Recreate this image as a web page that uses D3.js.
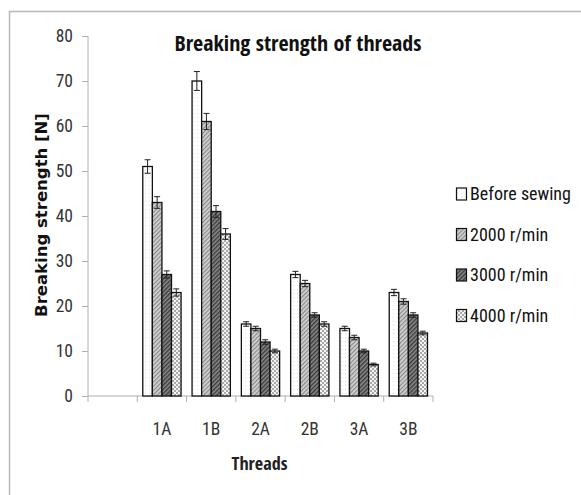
<!DOCTYPE html>
<html><head><meta charset="utf-8">
<script src="https://cdn.jsdelivr.net/npm/d3@7"></script>
<style>
html,body{margin:0;padding:0;background:#fff;}
</style>
</head><body>
<svg id="c" width="581" height="495"></svg>
<script>
const categories = ["", "1A", "1B", "2A", "2B", "3A", "3B"];
const seriesNames = ["Before sewing", "2000 r/min", "3000 r/min", "4000 r/min"];
const beforeSewing = [null, 51, 70, 16, 27, 15, 23];
const rpm2000 = [null, 43, 61, 15, 25, 13, 21];
const rpm3000 = [null, 27, 41, 12, 18, 10, 18];
const rpm4000 = [null, 23, 36, 10, 16, 7, 14];
const errBefore = [null, 1.5, 2.1, 0.5, 0.7, 0.5, 0.7];
const err2000 = [null, 1.3, 1.8, 0.5, 0.7, 0.5, 0.6];
const err3000 = [null, 0.8, 1.3, 0.5, 0.5, 0.4, 0.5];
const err4000 = [null, 0.8, 1.2, 0.4, 0.5, 0.3, 0.4];
const yTicks = [0, 10, 20, 30, 40, 50, 60, 70, 80];

const seriesValues = [beforeSewing, rpm2000, rpm3000, rpm4000];
const seriesErr = [errBefore, err2000, err3000, err4000];

const REG = "'Roboto Condensed', 'Open Sans', sans-serif";
const BOLDC = "'Open Sans Condensed', 'Roboto Condensed', sans-serif";
const BOLDW = "'DejaVu Sans', 'Open Sans', sans-serif";

const svg = d3.select("#c");
const defs = svg.append("defs");

function fit(sel, w) {
  const cur = sel.node().getComputedTextLength();
  const fs = parseFloat(sel.attr("font-size"));
  sel.attr("font-size", (fs * w / cur).toFixed(2));
  return sel;
}

// patterns
const p0 = defs.append("pattern").attr("id","pat0").attr("patternUnits","userSpaceOnUse").attr("width",4).attr("height",4);
p0.append("rect").attr("width",4).attr("height",4).attr("fill","#fff");
p0.append("rect").attr("x",1).attr("y",1).attr("width",1).attr("height",1).attr("fill","#ddd");

const p1 = defs.append("pattern").attr("id","pat1").attr("patternUnits","userSpaceOnUse").attr("width",3).attr("height",3).attr("patternTransform","rotate(45)");
p1.append("rect").attr("width",3).attr("height",3).attr("fill","#d2d2d2");
p1.append("rect").attr("width",1.2).attr("height",3).attr("fill","#8a8a8a");

const p2 = defs.append("pattern").attr("id","pat2").attr("patternUnits","userSpaceOnUse").attr("width",3).attr("height",3).attr("patternTransform","rotate(45)");
p2.append("rect").attr("width",3).attr("height",3).attr("fill","#8a8a8a");
p2.append("rect").attr("width",1.4).attr("height",3).attr("fill","#3a3a3a");

const p3 = defs.append("pattern").attr("id","pat3").attr("patternUnits","userSpaceOnUse").attr("width",4).attr("height",4);
p3.append("rect").attr("width",4).attr("height",4).attr("fill","#f4f4f4");
p3.append("rect").attr("width",2).attr("height",2).attr("fill","#a8a8a8");
p3.append("rect").attr("x",2).attr("y",2).attr("width",2).attr("height",2).attr("fill","#a8a8a8");

const fills = ["url(#pat0)","url(#pat1)","url(#pat2)","url(#pat3)"];

// frame
svg.append("rect").attr("x",9.5).attr("y",11.5).attr("width",600).attr("height",600)
  .attr("fill","none").attr("stroke","#b8b8b8").attr("stroke-width",1.5);

const x = d3.scaleBand().domain(categories).range([88, 433]).paddingInner(0).paddingOuter(0);
const y = d3.scaleLinear().domain([0, 80]).range([396, 36]);
const xs = d3.scaleBand().domain(seriesNames).range([5.5, x.bandwidth() - 5.5]).padding(0);

// y axis
const gy = svg.append("g").attr("transform","translate(88,0)")
  .call(d3.axisLeft(y).tickValues(yTicks).tickSize(6).tickPadding(9));
gy.select(".domain").attr("stroke","#b0b0b0").attr("d","M0,36V402");
gy.selectAll(".tick line").attr("stroke","#b0b0b0");
gy.selectAll(".tick text").attr("fill","#333").style("font-family",REG).attr("font-size",17.5);

// x axis
const gx = svg.append("g").attr("transform","translate(0,396)")
  .call(d3.axisBottom(x).tickSize(0).tickPadding(27));
gx.select(".domain").attr("stroke","#b0b0b0").attr("d","M88,0H433");
gx.selectAll(".tick text").attr("fill","#333").style("font-family",REG).attr("font-size",17.5);
const bounds = categories.map(c => x(c) + x.bandwidth());
svg.append("g").selectAll("line").data(bounds).join("line")
  .attr("x1",d=>d).attr("x2",d=>d).attr("y1",396).attr("y2",402)
  .attr("stroke","#b0b0b0");

// bars
seriesValues.forEach((vals, si) => {
  const g = svg.append("g");
  const data = categories.map((c, i) => ({c, v: vals[i], e: seriesErr[si][i]})).filter(d => d.v != null);
  g.selectAll("rect").data(data).join("rect")
    .attr("x", d => x(d.c) + xs(seriesNames[si]))
    .attr("y", d => y(d.v))
    .attr("width", xs.bandwidth())
    .attr("height", d => y(0) - y(d.v))
    .attr("fill", fills[si])
    .attr("stroke","#111").attr("stroke-width",1.3);
  const eg = svg.append("g").attr("stroke","#222").attr("stroke-width",1);
  data.forEach(d => {
    const cx = x(d.c) + xs(seriesNames[si]) + xs.bandwidth()/2;
    eg.append("line").attr("x1",cx).attr("x2",cx).attr("y1",y(d.v + d.e)).attr("y2",y(d.v - d.e));
    eg.append("line").attr("x1",cx-3).attr("x2",cx+3).attr("y1",y(d.v + d.e)).attr("y2",y(d.v + d.e));
    eg.append("line").attr("x1",cx-3).attr("x2",cx+3).attr("y1",y(d.v - d.e)).attr("y2",y(d.v - d.e));
  });
});

// title
fit(svg.append("text").attr("x",298).attr("y",51).attr("text-anchor","middle")
  .attr("font-size",22).attr("font-weight","bold").attr("fill","#111")
  .style("font-family",BOLDC).text("Breaking strength of threads"), 247);

// axis titles
fit(svg.append("text").attr("transform","translate(46.5,215) rotate(-90)").attr("text-anchor","middle")
  .attr("font-size",15).attr("font-weight","bold").attr("fill","#111")
  .style("font-family",BOLDW).text("Breaking strength [N]"), 204);
fit(svg.append("text").attr("x",259.5).attr("y",470).attr("text-anchor","middle")
  .attr("font-size",20).attr("font-weight","bold").attr("fill","#222")
  .style("font-family",BOLDC).text("Threads"), 56);

// legend
const lg = svg.append("g");
let lfs = null;
seriesNames.forEach((n, i) => {
  const yy = 194 + i * 40.5;
  lg.append("rect").attr("x",456.5).attr("y",yy-6).attr("width",10).attr("height",12)
    .attr("fill",fills[i]).attr("stroke","#111").attr("stroke-width",1.2);
  const t = lg.append("text").attr("x",470).attr("y",yy+6).attr("font-size",18).attr("fill","#111")
    .style("font-family",REG).text(n);
  if (i === 0) { fit(t, 101); lfs = t.attr("font-size"); } else t.attr("font-size", lfs);
});
</script>
</body></html>
